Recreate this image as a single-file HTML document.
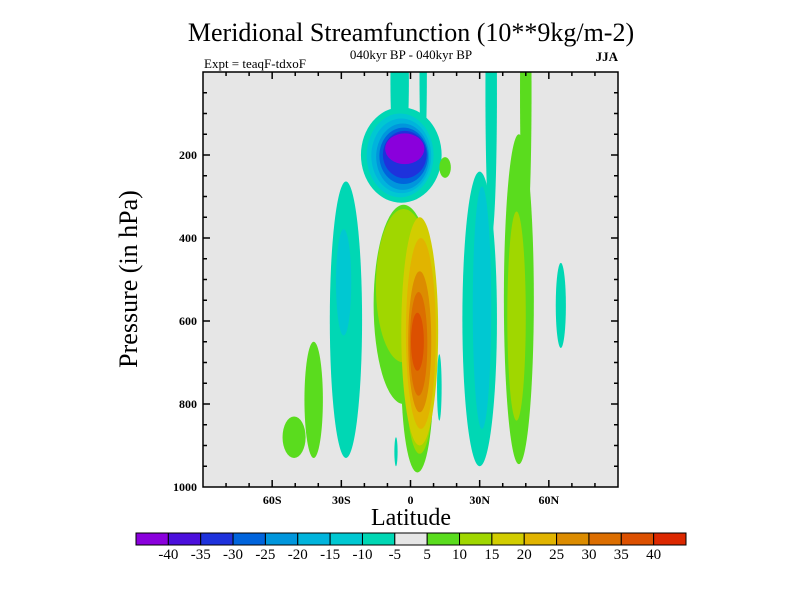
<!DOCTYPE html>
<html><head><meta charset="utf-8"><style>
body{margin:0;background:#fff;}
svg{display:block;font-family:"Liberation Serif",serif;}
</style></head><body>
<svg id="chart" width="800" height="600" viewBox="0 0 800 600">
<text x="411" y="41" font-size="26" text-anchor="middle">Meridional Streamfunction (10**9kg/m-2)</text>
<text x="411" y="59" font-size="13" text-anchor="middle">040kyr BP - 040kyr BP</text>
<text x="204" y="68" font-size="13">Expt = teaqF-tdxoF</text>
<text x="618" y="61" font-size="13" font-weight="bold" text-anchor="end">JJA</text>
<text transform="translate(137,279) rotate(-90)" font-size="26" text-anchor="middle">Pressure (in hPa)</text>
<text x="411" y="525" font-size="24" text-anchor="middle">Latitude</text>
<defs><clipPath id="plotclip"><rect x="203" y="72" width="415" height="415"/></clipPath></defs>
<rect x="203" y="72" width="415" height="415" fill="#e6e6e6"/>
<g id="fills" clip-path="url(#plotclip)"></g>
<g id="axes"></g>
<g id="colorbar"></g>
</svg>
<script>
// colour bar levels and colours
const levels = [-40,-35,-30,-25,-20,-15,-10,-5,5,10,15,20,25,30,35,40];
const binColors = ["#8a00dc","#4b0fdc","#1e32dc","#0064dc","#0096dc","#00b4dc","#00c8d2","#00d7b4","#e6e6e6","#5adc1e","#a0d700","#d2cd00","#e1b400","#dc8c00","#dc6e00","#dc5000","#dc2800"];
// contour blobs: centre latitude, half-width (deg), top/bottom pressure (hPa), value
const blobLat   = [-4.7, 5.5, -4, -4.5, -4, -3.4, -3, -2.5, -2.5,  -3, 3, -3, 4, 4, 4.5, 4, 3.5, 3,  -6.3, 12.5,  -28, -29,  -42, -50.5,  30, 35, 31,  47, 50, 46,  65.2, 15];
const blobHalf  = [4, 1.6, 17.5, 14.5, 13, 11.5, 10.5, 9.5, 8.5,  13, 7, 12, 6, 8, 6.5, 5, 3.8, 2.8,  0.7, 1,  7, 3.3,  4, 5,  7.5, 2.5, 4,  6.5, 2.5, 4,  2.2, 2.5];
const blobPTop  = [-200, -200, 85, 100, 112, 124, 134, 142, 148,  320, 500, 330, 550, 350, 400, 480, 530, 580,  880, 680,  264, 379,  650, 830,  240, -300, 276,  150, -300, 336,  460, 205];
const blobPBot  = [250, 220, 315, 302, 292, 284, 270, 256, 222,  800, 965, 700, 920, 900, 860, 820, 780, 720,  950, 840,  930, 635,  930, 930,  950, 400, 860,  945, 400, 840,  665, 255];
const blobValue = [-7, -7, -7, -12, -17, -22, -27, -32, -42,  7, 7, 12, 12, 17, 22, 27, 32, 37,  -7, -7,  -7, -12,  7, 7,  -7, -7, -12,  7, 7, 12,  -7, 7];
// axis ticks
const yTickLabels = [200,400,600,800,1000];
const xTickValues = [-60,-30,0,30,60];
const xTickLabels = ["60S","30S","0","30N","60N"];

const X0=203,X1=618,Y0=72,Y1=487;
function xScale(lat){return X0+(lat+90)/180*(X1-X0);}
function yScale(p){return Y0+p/1000*(Y1-Y0);}
function colorFor(v){let i=0;while(i<levels.length&&v>=levels[i])i++;return binColors[i];}
const NS="http://www.w3.org/2000/svg";
const fills=document.getElementById('fills');
for(let i=0;i<blobLat.length;i++){
  const e=document.createElementNS(NS,'ellipse');
  const xa=xScale(blobLat[i]-blobHalf[i]),xb=xScale(blobLat[i]+blobHalf[i]);
  const ya=yScale(blobPTop[i]),yb=yScale(blobPBot[i]);
  e.setAttribute('cx',(xa+xb)/2);e.setAttribute('cy',(ya+yb)/2);
  e.setAttribute('rx',(xb-xa)/2);e.setAttribute('ry',(yb-ya)/2);
  e.setAttribute('fill',colorFor(blobValue[i]));
  
  
  fills.appendChild(e);
}
const axes=document.getElementById('axes');
function line(x1,y1,x2,y2,name){const l=document.createElementNS(NS,'line');l.setAttribute('x1',x1);l.setAttribute('y1',y1);l.setAttribute('x2',x2);l.setAttribute('y2',y2);l.setAttribute('stroke','#000');l.setAttribute('stroke-width','1.5');
  
  
  axes.appendChild(l);}
function text(x,y,s,anchor,name){const t=document.createElementNS(NS,'text');t.setAttribute('x',x);t.setAttribute('y',y);t.setAttribute('text-anchor',anchor);t.setAttribute('font-size','12');t.setAttribute('font-weight','bold');t.textContent=s;
  
  
  axes.appendChild(t);}
const frame=document.createElementNS(NS,'rect');
frame.setAttribute('x',X0);frame.setAttribute('y',Y0);frame.setAttribute('width',X1-X0);frame.setAttribute('height',Y1-Y0);frame.setAttribute('fill','none');frame.setAttribute('stroke','#000');frame.setAttribute('stroke-width','1.5');


axes.appendChild(frame);
for(let p=50;p<1000;p+=50){const y=yScale(p);const len=(p%200===0)?7:4;line(X0,y,X0+len,y,'y-tick');line(X1,y,X1-len,y,'y-tick');}
yTickLabels.forEach(p=>text(X0-6,yScale(p)+4,String(p),'end','y-tick-label'));
for(let lat=-80;lat<=80;lat+=10){const x=xScale(lat);const len=(lat%30===0)?7:4;line(x,Y1,x,Y1-len,'x-tick');line(x,Y0,x,Y0+len,'x-tick');}
xTickValues.forEach((v,i)=>text(xScale(v),Y1+17,xTickLabels[i],'middle','x-tick-label'));
// colour bar
const cb=document.getElementById('colorbar');
const CX0=136,CX1=686,CY=533,CH=12,bw=(CX1-CX0)/binColors.length;
binColors.forEach((c,i)=>{const r=document.createElementNS(NS,'rect');r.setAttribute('x',CX0+i*bw);r.setAttribute('y',CY);r.setAttribute('width',bw);r.setAttribute('height',CH);r.setAttribute('fill',c);r.setAttribute('stroke','#000');r.setAttribute('stroke-width','1');
  
  
  cb.appendChild(r);});
levels.forEach((v,i)=>{const t=document.createElementNS(NS,'text');t.setAttribute('x',CX0+(i+1)*bw);t.setAttribute('y',CY+26);t.setAttribute('text-anchor','middle');t.setAttribute('font-size','15');t.textContent=String(v);
  
  
  cb.appendChild(t);});
</script>
</body></html>
